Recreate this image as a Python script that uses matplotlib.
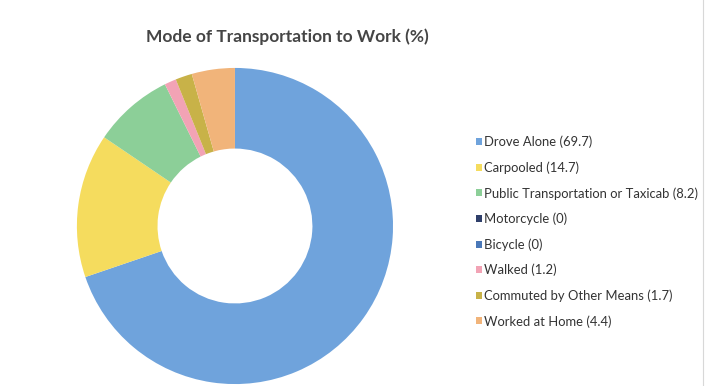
import matplotlib.pyplot as plt
from matplotlib.patches import Patch

labels = ['Drove Alone', 'Carpooled', 'Public Transportation or Taxicab',
          'Motorcycle', 'Bicycle', 'Walked', 'Commuted by Other Means',
          'Worked at Home']
values = [69.7, 14.7, 8.2, 0, 0, 1.2, 1.7, 4.4]
colors = ['#6fa3dc', '#f5dc5e', '#8ccf98', '#2f3f6a', '#4a78b8',
          '#f2a3b5', '#c8b248', '#f1b47a']

plt.rcParams['font.family'] = ['Lato', 'DejaVu Sans']

fig = plt.figure(figsize=(7.12, 3.86), dpi=100)
ax = fig.add_axes([0.108, 0.005, 0.444, 0.819])
ax.pie(values, colors=colors, startangle=90, counterclock=False,
       radius=1, wedgeprops=dict(width=0.51, edgecolor='none'))
ax.set_xlim(-1, 1)
ax.set_ylim(-1, 1)
ax.set_aspect('equal')

fig.text(0.403, 0.904, 'Mode of Transportation to Work (%)', ha='center',
         va='center', fontsize=12.5, fontweight='bold', color='#454545')

handles = [Patch(facecolor=c, edgecolor='none') for c in colors]
leg_labels = [f'{l} ({v:g})' for l, v in zip(labels, values)]
fig.legend(handles, leg_labels, loc='upper left',
           bbox_to_anchor=(0.66, 0.665), frameon=False, fontsize=9.4,
           labelcolor='#333333', handlelength=0.45, handleheight=0.45,
           handletextpad=0.12, labelspacing=1.0, borderpad=0)

fig.add_artist(plt.Line2D([0.987, 0.987], [0.0, 1.0], color='#d8d8d8',
                          lw=0.8, transform=fig.transFigure))

fig.savefig('out.png', dpi=100, facecolor='white')
